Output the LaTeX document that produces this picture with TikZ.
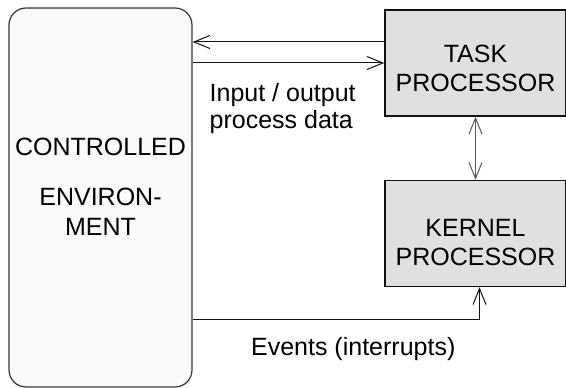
\documentclass[tikz,border=0pt]{standalone}
\usepackage{fontspec}
\setmainfont{Liberation Sans}
\usetikzlibrary{arrows.meta,positioning}
\definecolor{ink}{HTML}{111111}
\definecolor{envfill}{HTML}{FAFAFA}
\definecolor{procfill}{HTML}{E0E0E0}
\tikzset{
  envbox/.style={draw=ink!85, rounded corners=17pt, line width=1.2pt, align=center, minimum width=183pt, minimum height=379pt, fill=envfill, font=\fontsize{25}{30}\selectfont},
  proc/.style={draw=ink, line width=1.5pt, align=center, minimum width=181pt, minimum height=106pt, fill=procfill, font=\fontsize{25}{29}\selectfont},
  arrow/.style={-{Straight Barb[length=16pt,width=13pt]}, line width=1pt, draw=ink},
  twoway/.style={{Straight Barb[length=16pt,width=13pt]}-{Straight Barb[length=16pt,width=13pt]}, line width=1pt, draw=ink!70},
  lbl/.style={font=\fontsize{25}{27}\selectfont, align=left}
}
\begin{document}
\begin{tikzpicture}[node distance=63pt]
  \useasboundingbox (0,0) rectangle (566pt,388pt);
  \node[envbox, text depth=21pt] (env) at (100.5pt,190.5pt) {CONTROLLED\\[20pt]ENVIRON-\\MENT};
  \node[proc, text height=57pt] (task) at (475.5pt,325pt) {TASK\\PROCESSOR};
  \node[proc, text height=65pt, below=of task] (kernel) {KERNEL\\PROCESSOR};

  \coordinate (out) at ([yshift=21pt]task.west);
  \coordinate (ev) at ([yshift=68pt]env.south east);

  \draw[arrow] (out) -- (out -| env.east);
  \draw[arrow] (env.east |- task.west) -- node[lbl, below=17pt, pos=0.47] {Input / output\\process data} (task.west);
  \draw[twoway] (task.south) -- (kernel.north);
  \draw[arrow] (ev) -| node[lbl, below=14pt, pos=0.28] {Events (interrupts)} ([xshift=4pt]kernel.south);
\end{tikzpicture}
\end{document}
